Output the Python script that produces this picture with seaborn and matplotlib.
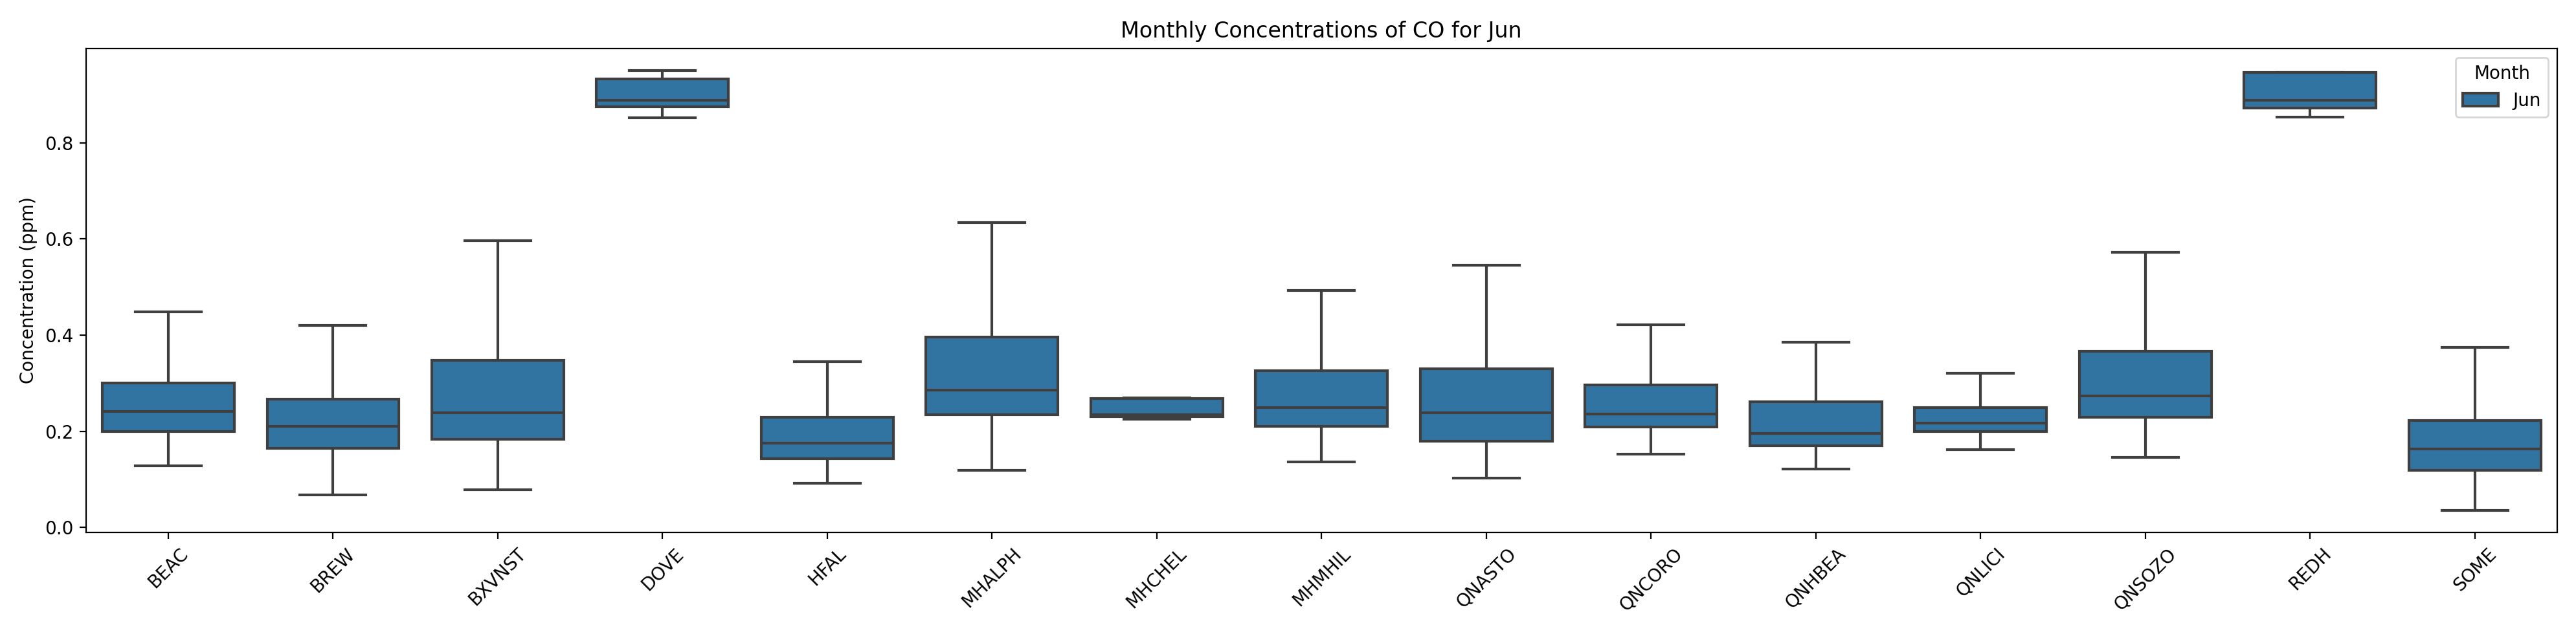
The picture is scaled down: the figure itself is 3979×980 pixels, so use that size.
import pandas as pd
from matplotlib import pyplot as plt
import seaborn as sns

# Stations and box summary (whisker low, Q1, median, Q3, whisker high), ppm
stations = ["BEAC", "BREW", "BXVNST", "DOVE", "HFAL", "MHALPH", "MHCHEL", "MHMHIL",
            "QNASTO", "QNCORO", "QNHBEA", "QNLICI", "QNSOZO", "REDH", "SOME"]
whis_lo = [0.128, 0.068, 0.078, 0.852, 0.092, 0.119, 0.225, 0.137,
           0.103, 0.152, 0.121, 0.162, 0.146, 0.853, 0.036]
q1 = [0.200, 0.164, 0.184, 0.875, 0.143, 0.235, 0.231, 0.211,
      0.179, 0.209, 0.170, 0.200, 0.229, 0.873, 0.119]
median = [0.241, 0.211, 0.239, 0.888, 0.176, 0.286, 0.235, 0.250,
          0.239, 0.236, 0.195, 0.217, 0.274, 0.888, 0.163]
q3 = [0.301, 0.267, 0.348, 0.933, 0.229, 0.396, 0.268, 0.326,
      0.330, 0.296, 0.262, 0.249, 0.366, 0.946, 0.222]
whis_hi = [0.449, 0.420, 0.596, 0.951, 0.345, 0.634, 0.270, 0.493,
           0.545, 0.421, 0.385, 0.321, 0.572, 0.946, 0.375]
month = "Jun"

# five points per station give exactly these quartiles with linear percentiles
rows = []
for i, s in enumerate(stations):
    for v in (whis_lo[i], q1[i], median[i], q3[i], whis_hi[i]):
        rows.append({"Station": s, "Concentration": v, "Month": month})
df = pd.DataFrame(rows)

fig, ax = plt.subplots(figsize=(19.9, 4.9))

sns.boxplot(
    data=df,
    x="Station",
    y="Concentration",
    hue="Month",
    whis=(0, 100),
    showfliers=False,
    color="#1f77b4",
    palette=["#1f77b4"],
    saturation=0.75,
    linecolor="#3f3f3f",
    linewidth=1.5,
    ax=ax,
)

ax.set_title(f"Monthly Concentrations of CO for {month}")
ax.set_xlabel("")
ax.set_ylabel("Concentration (ppm)")
ax.tick_params(axis="x", labelrotation=45)
ax.legend(title="Month", loc="upper right")

plt.tight_layout()
plt.savefig("out.png", dpi=200)
